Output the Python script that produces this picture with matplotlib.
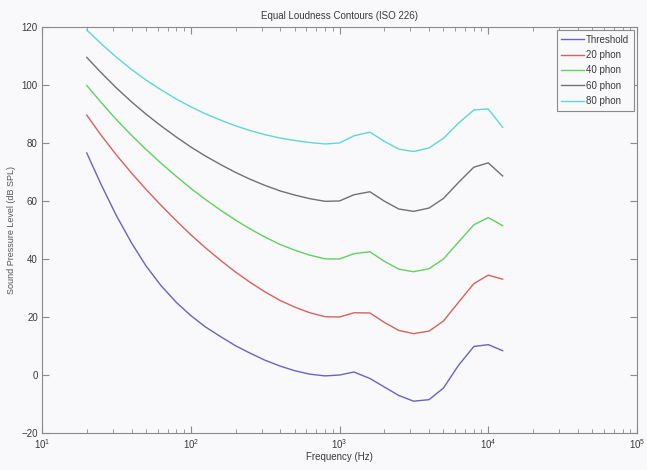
import matplotlib
matplotlib.use("Agg")
import matplotlib.pyplot as plt
from matplotlib.ticker import LogLocator, NullFormatter

plt.rcParams['font.family'] = ['Liberation Sans', 'DejaVu Sans']

freqs = [20, 25, 31.5, 40, 50, 63, 80, 100, 125, 160, 200, 250, 315, 400, 500,
         630, 800, 1000, 1250, 1600, 2000, 2500, 3150, 4000, 5000, 6300, 8000,
         10000, 12500]

threshold = [76.55, 65.62, 55.12, 45.53, 37.63, 30.86, 25.03, 20.51, 16.64, 13.12,
             10.09, 7.55, 5.11, 3.06, 1.48, 0.30, -0.31, -0.01, 1.03, -1.19,
             -4.12, -7.05, -9.03, -8.50, -4.49, 3.28, 9.83, 10.47, 8.39]
phon20 = [89.58, 82.65, 75.98, 69.62, 64.02, 58.55, 53.19, 48.38, 43.94, 39.37,
          35.51, 31.99, 28.69, 25.67, 23.43, 21.48, 20.10, 20.00, 21.46, 21.40,
          18.15, 15.38, 14.26, 15.14, 18.63, 25.02, 31.52, 34.43, 33.04]
phon40 = [99.85, 93.94, 88.17, 82.63, 77.79, 73.08, 68.48, 64.37, 60.59, 56.70,
          53.41, 50.40, 47.58, 44.98, 43.05, 41.34, 40.06, 40.01, 41.82, 42.51,
          39.23, 36.51, 35.61, 36.65, 40.01, 45.83, 51.80, 54.28, 51.49]
phon60 = [109.51, 104.23, 99.08, 94.18, 89.96, 85.94, 82.05, 78.65, 75.56, 72.47,
          69.86, 67.53, 65.39, 63.45, 62.05, 60.81, 59.89, 60.01, 62.15, 63.19,
          59.96, 57.25, 56.42, 57.57, 60.89, 66.36, 71.66, 73.15, 68.63]
phon80 = [118.99, 114.23, 109.65, 105.34, 101.72, 98.36, 95.17, 92.48, 90.09, 87.82,
          85.92, 84.31, 82.89, 81.68, 80.86, 80.17, 79.67, 80.01, 82.48, 83.74,
          80.59, 77.88, 77.07, 78.31, 81.62, 86.81, 91.41, 91.74, 85.41]

series = [threshold, phon20, phon40, phon60, phon80]
labels = ['Threshold', '20 phon', '40 phon', '60 phon', '80 phon']
colors = ['#6a62c8', '#d8625c', '#5fd25f', '#707070', '#5fd6d8']

yticks = [-20, 0, 20, 40, 60, 80, 100, 120]

bg = '#f9f9fc'
axc = '#8a8a8a'
txc = '#3a3a3a'

fig = plt.figure(figsize=(6.47, 4.70), dpi=100, facecolor=bg)
ax = fig.add_axes([42/647, 1 - 433/470, (637-42)/647, (433-27)/470])
ax.set_facecolor(bg)

for s, lab, c in zip(series, labels, colors):
    ax.plot(freqs, s, color=c, lw=1.0, label=lab)

ax.set_xscale('log')
ax.set_xlim(10, 1e5)
ax.set_ylim(-20, 120)
ax.set_yticks(yticks)
ax.xaxis.set_major_locator(LogLocator(base=10, numticks=10))
ax.xaxis.set_minor_locator(LogLocator(base=10, subs=range(2, 10), numticks=50))
ax.xaxis.set_minor_formatter(NullFormatter())

for sp in ax.spines.values():
    sp.set_color(axc)
    sp.set_linewidth(0.8)
ax.tick_params(which='both', direction='in', top=True, right=True, colors=axc,
               labelcolor=txc, labelsize=7, pad=3)
ax.tick_params(which='major', length=5)
ax.tick_params(which='minor', length=3)

ax.set_title('Equal Loudness Contours (ISO 226)', fontsize=7, color=txc, pad=6)
ax.set_xlabel('Frequency (Hz)', fontsize=7, color=txc, labelpad=1)
ax.set_ylabel('Sound Pressure Level (dB SPL)', fontsize=6.5, color='#555555')
ax.yaxis.set_label_coords(-0.043, 0.5)

leg = ax.legend(loc='upper right', fontsize=7, frameon=True, fancybox=False,
                edgecolor=axc, facecolor=bg, framealpha=1, borderaxespad=0.35,
                handlelength=2.3, handletextpad=0.25, labelspacing=0.55,
                borderpad=0.45)
leg.get_frame().set_linewidth(0.8)
for t in leg.get_texts():
    t.set_color(txc)

fig.savefig('out.png', dpi=100, facecolor=bg)
